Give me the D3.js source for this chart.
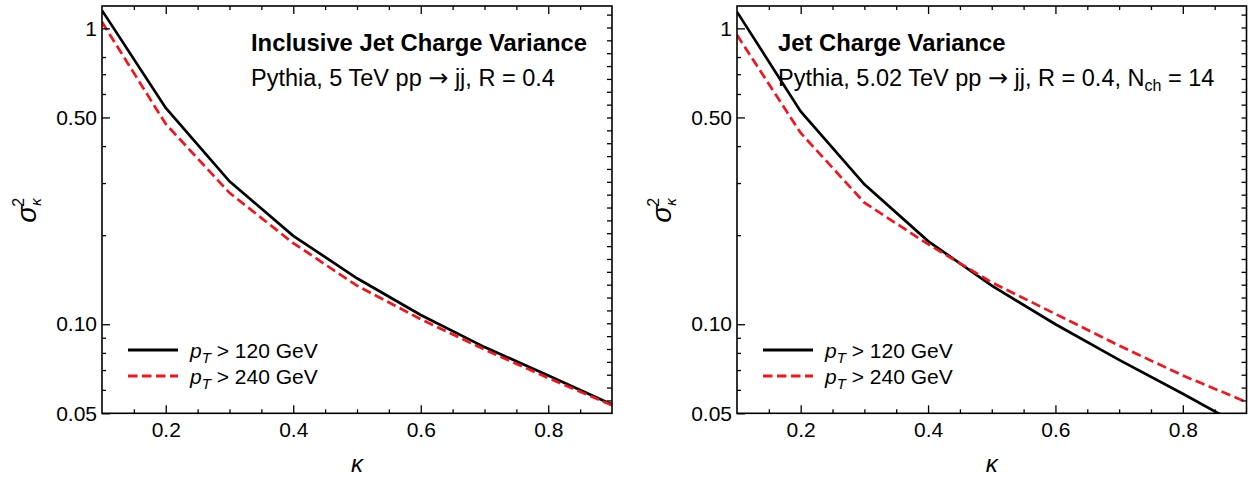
<!DOCTYPE html>
<html>
<head>
<meta charset="utf-8">
<script src="https://cdn.jsdelivr.net/npm/d3@7"></script>
<style>
  html, body { margin: 0; padding: 0; background: #fff; }
  text { font-family: "Liberation Sans", Arial, Helvetica, sans-serif; fill: #000; }
</style>
</head>
<body>
<svg id="chart" width="1255" height="480"></svg>
<script>
// ---- data ----
const kappa = [0.1, 0.2, 0.3, 0.4, 0.5, 0.6, 0.7, 0.8, 0.9];
const left120 = [1.15, 0.538, 0.304, 0.199, 0.143, 0.1075, 0.0837, 0.0671, 0.0535];
const left240 = [1.05, 0.475, 0.278, 0.188, 0.135, 0.104, 0.0821, 0.0658, 0.0532];
const right120 = [1.137, 0.524, 0.297, 0.191, 0.135, 0.1, 0.0758, 0.0582, 0.0443];
const right240 = [0.949, 0.443, 0.2575, 0.1864, 0.1385, 0.1083, 0.0847, 0.0671, 0.0546];
const xMajorTicks = [0.2, 0.4, 0.6, 0.8];
const xMinorTicks = [0.15, 0.25, 0.3, 0.35, 0.45, 0.5, 0.55, 0.65, 0.7, 0.75, 0.85];
const yMajorTicks = [0.05, 0.1, 0.5, 1];
const yMajorLabels = ["0.05", "0.10", "0.50", "1"];
const yMinorTicks = [0.06, 0.07, 0.08, 0.09, 0.2, 0.3, 0.4, 0.6, 0.7, 0.8];
const seriesNames = ["120", "240"];

const panels = [
  { left: 102, right: 612, title: "Inclusive Jet Charge Variance",
    sub: [["Pythia, 5 TeV pp ", null], ["\u2192", "arrow"], [" jj, R = 0.4", null]],
    series: [left120, left240], legX: 128, idx: 0 },
  { left: 737, right: 1246.5, title: "Jet Charge Variance",
    sub: [["Pythia, 5.02 TeV pp ", null], ["\u2192", "arrow"], [" jj, R = 0.4, N", null], ["ch", "sub"], [" = 14", "back"]],
    series: [right120, right240], legX: 763, idx: 1 }
];

const svg = d3.select("#chart");
const yTop = 6, yBottom = 413.3;
const styles = [
  { stroke: "#000", dash: null },
  { stroke: "#f4141c", dash: "9.5,4.5" }
];

panels.forEach(p => {
  const x = d3.scaleLinear().domain([0.1, 0.9]).range([p.left, p.right]);
  const y = d3.scaleLog().domain([0.05, 1.19]).range([yBottom, yTop]);
  const g = svg.append("g");
  const clipId = "clip" + p.idx;
  svg.append("clipPath").attr("id", clipId).append("rect")
    .attr("x", p.left).attr("y", yTop).attr("width", p.right - p.left).attr("height", yBottom - yTop);

  // lines
  const line = d3.line().x((d, i) => x(kappa[i])).y(d => y(d));
  p.series.forEach((s, k) => {
    g.append("path").datum(s)
      .attr("clip-path", `url(#${clipId})`)
      .attr("d", line)
      .attr("fill", "none")
      .attr("stroke", styles[k].stroke)
      .attr("stroke-width", 2.7)
      .attr("stroke-dasharray", styles[k].dash);
  });

  // axes
  const axStyle = sel => {
    sel.select(".domain").remove();
    sel.selectAll(".tick line").attr("stroke", "#000").attr("stroke-width", 1.3);
    sel.selectAll(".tick text").style("font-size", "21px").attr("fill", "#000");
  };
  g.append("g").attr("transform", `translate(0,${yBottom})`)
    .call(d3.axisBottom(x).tickValues(xMajorTicks).tickSize(-8).tickPadding(9).tickFormat(d3.format(".1f")))
    .call(axStyle);
  g.append("g").attr("transform", `translate(0,${yBottom})`)
    .call(d3.axisBottom(x).tickValues(xMinorTicks).tickSize(-4).tickFormat(""))
    .call(axStyle);
  g.append("g").attr("transform", `translate(0,${yTop})`)
    .call(d3.axisTop(x).tickValues(xMajorTicks).tickSize(-8).tickFormat(""))
    .call(axStyle);
  g.append("g").attr("transform", `translate(0,${yTop})`)
    .call(d3.axisTop(x).tickValues(xMinorTicks).tickSize(-4).tickFormat(""))
    .call(axStyle);
  g.append("g").attr("transform", `translate(${p.left},0)`)
    .call(d3.axisLeft(y).tickValues(yMajorTicks).tickSize(-8).tickPadding(5)
      .tickFormat((d, i) => yMajorLabels[i]))
    .call(axStyle);
  g.append("g").attr("transform", `translate(${p.left},0)`)
    .call(d3.axisLeft(y).tickValues(yMinorTicks).tickSize(-4).tickFormat(""))
    .call(axStyle);
  // right frame: evenly spaced ticks
  const yr = d3.scaleLinear().domain([0, 31.67]).range([yBottom, yTop]);
  g.append("g").attr("transform", `translate(${p.right},0)`)
    .call(d3.axisRight(yr).tickValues(d3.range(1, 32)).tickSize(-5).tickFormat(""))
    .call(axStyle);

  // frame
  g.append("rect").attr("x", p.left).attr("y", yTop)
    .attr("width", p.right - p.left).attr("height", yBottom - yTop)
    .attr("fill", "none").attr("stroke", "#000").attr("stroke-width", 1.6);

  // titles
  g.append("text").attr("x", p.idx ? 778 : 251).attr("y", 51)
    .style("font-size", "23.8px").style("font-weight", "bold").text(p.title);
  const st = g.append("text").attr("x", p.idx ? 778 : 251).attr("y", 86).style("font-size", "23.5px");
  p.sub.forEach(([t, kind]) => {
    const ts = st.append("tspan").text(t);
    if (kind === "sub") ts.attr("dy", 5).style("font-size", "16px");
    else if (kind === "back") ts.attr("dy", -5);
    else if (kind === "arrow") ts.style("font-family", "'DejaVu Sans'").style("font-size", "24px");
  });

  // legend
  seriesNames.forEach((n, k) => {
    const ly = 350 + k * 26;
    g.append("line").attr("x1", p.legX).attr("x2", p.legX + 50)
      .attr("y1", ly).attr("y2", ly)
      .attr("stroke", styles[k].stroke).attr("stroke-width", 3)
      .attr("stroke-dasharray", styles[k].dash);
    const t = g.append("text").attr("x", p.legX + 62).attr("y", ly + 8).style("font-size", "21px");
    t.append("tspan").style("font-style", "italic").text("p");
    t.append("tspan").style("font-style", "italic").style("font-size", "15px").attr("dy", 5).text("T");
    t.append("tspan").attr("dy", -5).text(` > ${n} GeV`);
  });

  // axis labels
  g.append("text").attr("x", (p.left + p.right) / 2).attr("y", 472)
    .attr("text-anchor", "middle").style("font-size", "24px").style("font-style", "italic").text("\u03ba");
  const yl = g.append("g").attr("transform", `translate(${p.left - 66},${(yTop + yBottom) / 2}) rotate(-90)`);
  yl.append("text").attr("x", -13).attr("y", 0).style("font-size", "28px").style("font-style", "italic").text("\u03c3");
  yl.append("text").attr("x", 3).attr("y", -12).style("font-size", "16px").text("2");
  yl.append("text").attr("x", 4).attr("y", 5).style("font-size", "15px").style("font-style", "italic").text("\u03ba");
});
</script>
</body>
</html>
